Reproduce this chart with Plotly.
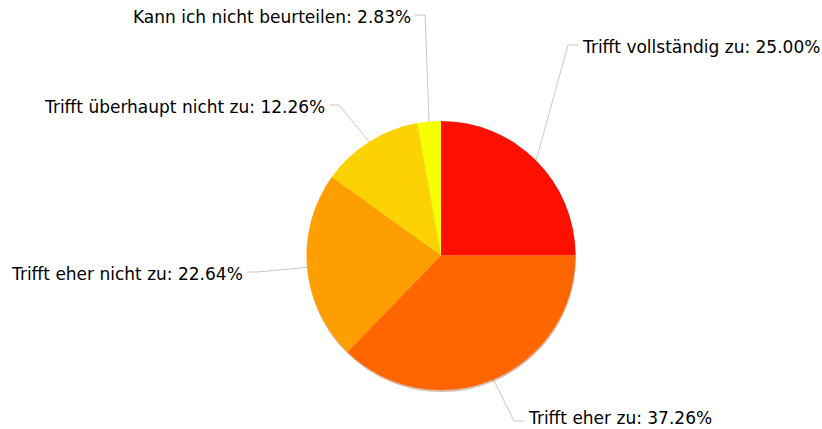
import math
import plotly.graph_objects as go

# Survey answers and their shares (percent)
categories = [
    "Trifft vollständig zu",
    "Trifft eher zu",
    "Trifft eher nicht zu",
    "Trifft überhaupt nicht zu",
    "Kann ich nicht beurteilen",
]
values = [25.00, 37.26, 22.64, 12.26, 2.83]
colors = ["#FF0F00", "#FF6600", "#FF9E01", "#FCD202", "#F8FF01"]

# Canvas and pie geometry (pixels)
W, H = 822, 429
CX, CY, R = 441, 255.5, 134.5
FONT_SIZE = 17

# Label layout: elbow point of each connector (pixels) and which side the text sits on
label_elbow = [(568, 45), (514, 421), (257, 272), (339, 105), (425, 15)]
label_side = ["right", "right", "left", "left", "left"]
HSEG = 10   # horizontal part of the connector
GAP = 3     # space between connector and text


def px(x):
    return x / W


def py(y):
    return 1 - y / H


dom_x = [px(CX - R), px(CX + R)]
dom_y = [py(CY + R), py(CY - R)]

fig = go.Figure()

# soft shadow under the pie
fig.add_trace(go.Pie(
    values=[1], labels=["shadow"], marker=dict(colors=["rgba(150,60,0,0.35)"], line=dict(width=0)),
    domain=dict(x=[px(CX - R + 0.5), px(CX + R + 0.5)], y=[py(CY + R + 2), py(CY - R + 2)]),
    textinfo="none", hoverinfo="skip", showlegend=False, sort=False,
))

fig.add_trace(go.Pie(
    values=values, labels=categories,
    marker=dict(colors=colors, line=dict(width=0)),
    domain=dict(x=dom_x, y=dom_y),
    direction="clockwise", rotation=0, sort=False,
    textinfo="none", showlegend=False,
    hovertemplate="%{label}: %{value:.2f}%<extra></extra>",
))

total = sum(values)
cum = 0.0
shapes = []
annotations = []
for name, v, (ex, ey), side in zip(categories, values, label_elbow, label_side):
    mid = (cum + v / 2) / total * 2 * math.pi
    cum += v
    # point on the pie rim at the slice's mid angle (clockwise from 12 o'clock)
    sx = CX + R * math.sin(mid)
    sy = CY - R * math.cos(mid)
    hx = ex + HSEG if side == "right" else ex - HSEG
    path = f"M {px(sx)} {py(sy)} L {px(ex)} {py(ey)} L {px(hx)} {py(ey)}"
    shapes.append(dict(type="path", path=path, xref="paper", yref="paper",
                       line=dict(color="rgba(0,0,0,0.22)", width=1)))
    tx = hx + GAP if side == "right" else hx - GAP
    # keep the text box inside the canvas
    ty = min(ey + 2, H - FONT_SIZE * 0.62)
    annotations.append(dict(
        x=px(tx), y=py(ty), xref="paper", yref="paper",
        text=f"{name}: {v:.2f}%", showarrow=False,
        xanchor="left" if side == "right" else "right", yanchor="middle",
        borderpad=0,
        font=dict(family="DejaVu Sans, Verdana, sans-serif", size=FONT_SIZE, color="#000000"),
    ))

fig.update_layout(
    width=W, height=H,
    margin=dict(l=0, r=0, t=0, b=0),
    paper_bgcolor="#FFFFFF", plot_bgcolor="#FFFFFF",
    shapes=shapes, annotations=annotations,
    showlegend=False,
)

fig.write_html("out.html")
